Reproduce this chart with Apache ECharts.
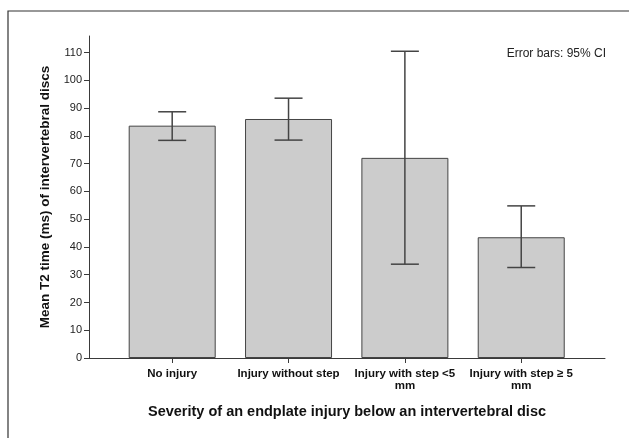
<!DOCTYPE html>
<html>
<head>
<meta charset="utf-8">
<script src="https://cdn.jsdelivr.net/npm/echarts@6/dist/echarts.min.js"></script>
<style>
html,body{margin:0;padding:0;background:#fff;}
#c{width:629px;height:438px;}
</style>
</head>
<body>
<div id="c"></div>
<script>
var categories = ['No injury', 'Injury without step', 'Injury with step <5\nmm', 'Injury with step \u2265 5\nmm'];
var means = [83.7, 86.1, 72.1, 43.5];
var ciLow = [78.4, 78.5, 33.8, 32.6];
var ciHigh = [88.7, 93.6, 110.5, 54.8];
var yTicks = [0, 10, 20, 30, 40, 50, 60, 70, 80, 90, 100, 110];

var positions = categories.map(function (c, i) { return i; });
var barData = means.map(function (v, i) { return [i, v]; });
var errData = means.map(function (v, i) { return [i, ciLow[i], ciHigh[i]]; });

var chart = echarts.init(document.getElementById('c'), null, {renderer: 'canvas'});
var dark = '#3a3a3a';
var option = {
  animation: false,
  backgroundColor: '#fff',
  textStyle: {fontFamily: 'Liberation Sans, Arial, sans-serif'},
  graphic: [
    {type: 'polyline', shape: {points: [[8, 460], [8, 11], [640, 11]]}, style: {stroke: '#333', lineWidth: 1.2, fill: null}, silent: true},
    {type: 'text', right: 23, top: 48, style: {text: 'Error bars: 95% CI', fill: '#222', font: '12px Liberation Sans, Arial, sans-serif'}}
  ],
  grid: {left: 89, right: 24, top: 36, bottom: 80, containLabel: false},
  xAxis: {
    type: 'value',
    min: -0.715,
    max: 3.72,
    name: 'Severity of an endplate injury below an intervertebral disc',
    nameLocation: 'middle',
    nameGap: 46,
    nameTextStyle: {fontSize: 14.5, fontWeight: 'bold', color: '#111'},
    axisLine: {show: true, onZero: false, lineStyle: {color: dark, width: 1}},
    axisTick: {show: true, length: 5, lineStyle: {color: dark}, customValues: positions},
    axisLabel: {
      customValues: positions,
      formatter: function (v) { return categories[Math.round(v)] || ''; },
      fontSize: 11.5, fontWeight: 'bold', color: '#111', margin: 10, lineHeight: 12
    },
    splitLine: {show: false}
  },
  yAxis: {
    type: 'value',
    min: 0,
    max: 116,
    name: 'Mean T2 time (ms) of intervertebral discs',
    nameLocation: 'middle',
    nameGap: 34,
    nameTextStyle: {fontSize: 13.5, fontWeight: 'bold', color: '#111'},
    axisLine: {show: true, onZero: false, lineStyle: {color: dark, width: 1}},
    axisTick: {show: true, length: 5, lineStyle: {color: dark}, customValues: yTicks},
    axisLabel: {customValues: yTicks, fontSize: 11, color: '#222', margin: 7},
    splitLine: {show: false}
  },
  series: [
    {
      type: 'bar',
      data: barData,
      barWidth: 87,
      itemStyle: {color: '#cccccc', borderColor: '#444', borderWidth: 1},
      z: 2
    },
    {
      type: 'custom',
      data: errData,
      z: 5,
      renderItem: function (params, api) {
        var x = api.value(0);
        var lo = api.coord([x, api.value(1)]);
        var hi = api.coord([x, api.value(2)]);
        var hw = 14;
        var st = {stroke: '#444', lineWidth: 1.5};
        return {
          type: 'group',
          children: [
            {type: 'line', shape: {x1: lo[0], y1: lo[1], x2: hi[0], y2: hi[1]}, style: st},
            {type: 'line', shape: {x1: lo[0] - hw, y1: lo[1], x2: lo[0] + hw, y2: lo[1]}, style: st},
            {type: 'line', shape: {x1: hi[0] - hw, y1: hi[1], x2: hi[0] + hw, y2: hi[1]}, style: st}
          ]
        };
      }
    }
  ]
};
chart.setOption(option);
</script>
</body>
</html>
